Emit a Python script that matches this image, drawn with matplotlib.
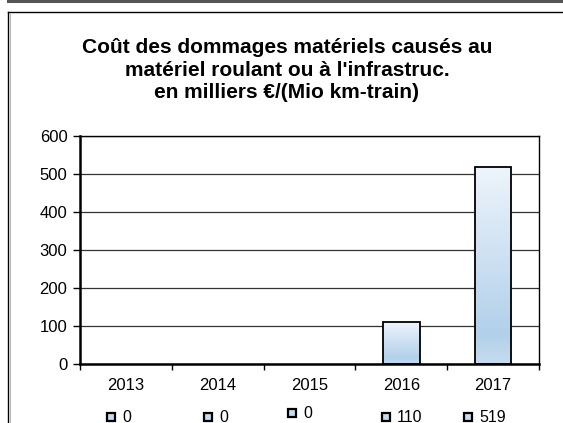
import numpy as np
import matplotlib
matplotlib.use("Agg")
from matplotlib import pyplot as plt
from matplotlib.lines import Line2D
from matplotlib.colors import LinearSegmentedColormap

years = ["2013", "2014", "2015", "2016", "2017"]
values = [0, 0, 0, 110, 519]
y_ticks = [0, 100, 200, 300, 400, 500, 600]
title = "Coût des dommages matériels causés au\nmatériel roulant ou à l'infrastruc.\nen milliers €/(Mio km-train)"

plt.rcParams["font.family"] = ["Liberation Sans", "DejaVu Sans"]

W, H = 563, 423
fig = plt.figure(figsize=(W / 100, H / 100), dpi=100)


def px(x, y):
    # pixel coords (from top-left) -> figure fraction
    return x / W, 1 - y / H


# outer frame lines
fig.add_artist(Line2D([8 / W, 1], [1 - 1.5 / H] * 2, color="#555555", lw=2.2))
fig.add_artist(Line2D([8 / W, 1], [1 - 12.5 / H] * 2, color="black", lw=1.0))
fig.add_artist(Line2D([8 / W, 8 / W], [0, 1 - 12.5 / H], color="black", lw=1.0))
fig.add_artist(Line2D([9.5 / W, 9.5 / W], [0, 1 - 13.5 / H], color="#bbbbbb", lw=0.8))

fig.text(px(287, 0)[0], px(0, 70)[1], title, ha="center", va="center",
         fontsize=15, fontweight="bold", linespacing=1.22)

left, right, top, zero = 80, 539, 136, 364
ax = fig.add_axes([left / W, 1 - zero / H, (right - left) / W, (zero - top) / H])

x = np.arange(len(years))
bars = ax.bar(x, values, width=0.4, color="none", edgecolor="black", lw=1.3, zorder=3)

cmap = LinearSegmentedColormap.from_list(
    "grad", [(0.0, "#eef4fb"), (0.85, "#b2d0ea"), (1.0, "#c6dcef")])
grad = np.linspace(0, 1, 256).reshape(-1, 1)
for b in bars:
    if b.get_height() <= 0:
        b.set_linewidth(0)
        continue
    x0, w, h = b.get_x(), b.get_width(), b.get_height()
    im = ax.imshow(grad, cmap=cmap, aspect="auto", extent=(x0, x0 + w, 0, h),
                   origin="upper", zorder=2.5)
    im.set_clip_path(b)

ax.set_xlim(-0.5, len(years) - 0.5)
ax.set_ylim(0, 600)
ax.set_yticks(y_ticks)
ax.set_yticklabels([str(v) for v in y_ticks], fontsize=12)
ax.yaxis.grid(True, color="#333333", lw=0.9, zorder=1)
ax.set_axisbelow(True)

ax.set_xticks(np.arange(-0.5, len(years), 1.0))
ax.set_xticklabels([])
ax.set_xticks(x, minor=True)
ax.set_xticklabels(years, minor=True, fontsize=12)
ax.tick_params(axis="x", which="minor", length=0, pad=10)
ax.tick_params(axis="x", which="major", length=4, width=1, direction="out")
ax.tick_params(axis="y", length=5, width=1, direction="out", pad=4)

for side in ["left", "bottom"]:
    ax.spines[side].set_linewidth(1.8)
for side in ["top", "right"]:
    ax.spines[side].set_linewidth(1.0)

# value legend under the axis
leg_x = [111, 208, 292, 386, 468]
leg_y = [417, 417, 413, 417, 417]
for lx, ly, v in zip(leg_x, leg_y, values):
    fx, fy = px(lx, ly)
    fig.add_artist(Line2D([fx], [fy], marker="s", markersize=6,
                          markerfacecolor="#c4dbf0", markeredgecolor="black",
                          markeredgewidth=1.6, linestyle="none"))
    fig.text(px(lx + 11, 0)[0], fy, str(v), ha="left", va="center", fontsize=11.5)

fig.savefig("out.png", dpi=100)
